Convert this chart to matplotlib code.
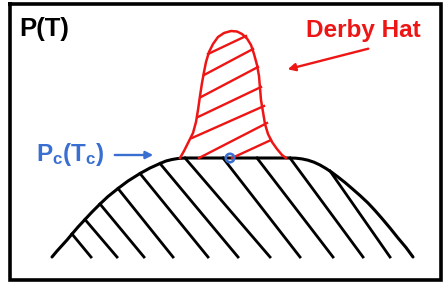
import matplotlib.pyplot as plt
from matplotlib.patches import Circle

plt.rcParams['font.family'] = ['Liberation Sans', 'DejaVu Sans']
plt.rcParams['mathtext.fontset'] = 'custom'
plt.rcParams['mathtext.bf'] = 'Liberation Sans:bold'
plt.rcParams['mathtext.rm'] = 'Liberation Sans:bold'

# sketch coordinates (x to the right, y downwards)
dome_x = [52, 57, 62, 67, 72, 78, 85, 92, 100, 108, 118, 128, 140, 150, 160, 166, 172, 178,
          185, 230, 290, 296, 302, 308, 314, 320, 326, 332, 338, 345, 352, 360, 368, 375, 382,
          390, 398, 406, 413]
dome_y = [257, 251, 245.5, 240, 234, 227, 219.5, 212, 204, 196.5, 188.5, 181, 173.5, 168,
          163.5, 161, 159.5, 158.5, 158, 158, 158, 158.2, 158.9, 160.2, 162.2, 165, 168.5, 172.5,
          177, 182.5, 188.5, 195.5, 203, 210.5, 218.5, 228, 238, 247.5, 257]

# black hatching: top point on the dome -> bottom point
hatch_top_x = [72, 85, 100, 118, 140, 160, 185, 223, 257, 290, 330]
hatch_top_y = [234, 219.5, 204, 188.5, 173.5, 163.5, 158, 158, 158, 158, 171]
hatch_bot_x = [91, 117, 144, 173, 208, 238, 270, 300, 333, 363, 390]
hatch_bot_y = [257] * 11

# derby hat outline
hat_x = [180, 184, 188, 193, 196, 198, 200, 202, 204, 206, 209, 213, 218, 224, 231, 237, 242,
         247, 251, 254, 257, 259, 260, 261, 263, 265, 268, 272, 277, 282, 286]
hat_y = [158, 151, 143, 133, 122, 110, 96, 83, 72, 62, 52, 44, 37, 33, 31, 31.5, 34, 38.5, 45,
         54, 65, 76, 88, 100, 112, 124, 134, 142, 149, 155, 158]

# red hatching inside the hat
red_x0 = [208, 204, 201, 198, 192, 199, 232]
red_y0 = [54, 75, 97, 117, 138, 158, 158]
red_x1 = [246, 253, 258, 261, 264, 267, 271]
red_y1 = [36, 49, 67, 87, 106, 123, 140]

# critical point marker
crit_x, crit_y = 230, 158

fig = plt.figure(figsize=(4.43, 2.83), dpi=100)
ax = fig.add_axes([0, 0, 1, 1])
ax.set_xlim(0, 443)
ax.set_ylim(283, 0)
ax.axis('off')

red = '#ee1515'
blue = '#3a6fd2'

# frame
ax.plot([10.5, 441, 441, 10.5, 10.5], [4, 4, 280, 280, 4], color='black', lw=2.6,
        solid_joinstyle='miter')

# dome and its hatching
ax.plot(dome_x, dome_y, color='black', lw=2.2, solid_capstyle='round')
for i in range(len(hatch_top_x)):
    ax.plot([hatch_top_x[i], hatch_bot_x[i]], [hatch_top_y[i], hatch_bot_y[i]],
            color='black', lw=2.0)

# derby hat
ax.plot(hat_x, hat_y, color=red, lw=1.8)
for i in range(len(red_x0)):
    ax.plot([red_x0[i], red_x1[i]], [red_y0[i], red_y1[i]], color=red, lw=1.7)

ax.add_patch(Circle((crit_x, crit_y), 4.2, fill=False, edgecolor=blue, lw=1.9, zorder=5))

# labels
ax.text(19, 29, 'P(T)', fontsize=18.5, fontweight='bold', color='black', va='center', ha='left')
ax.text(306, 30, 'Derby Hat', fontsize=17.5, fontweight='bold', color=red, va='center', ha='left')
ax.annotate('', xy=(285, 70), xytext=(371, 48),
            arrowprops=dict(arrowstyle='-|>', color=red, lw=1.7, mutation_scale=11))
ax.text(36, 155, r'$\mathbf{P_c(T_c)}$', fontsize=17.5, color=blue, va='center', ha='left')
ax.annotate('', xy=(156, 155), xytext=(112, 155),
            arrowprops=dict(arrowstyle='-|>', color=blue, lw=1.7, mutation_scale=11))

plt.savefig('out.png', dpi=100)
